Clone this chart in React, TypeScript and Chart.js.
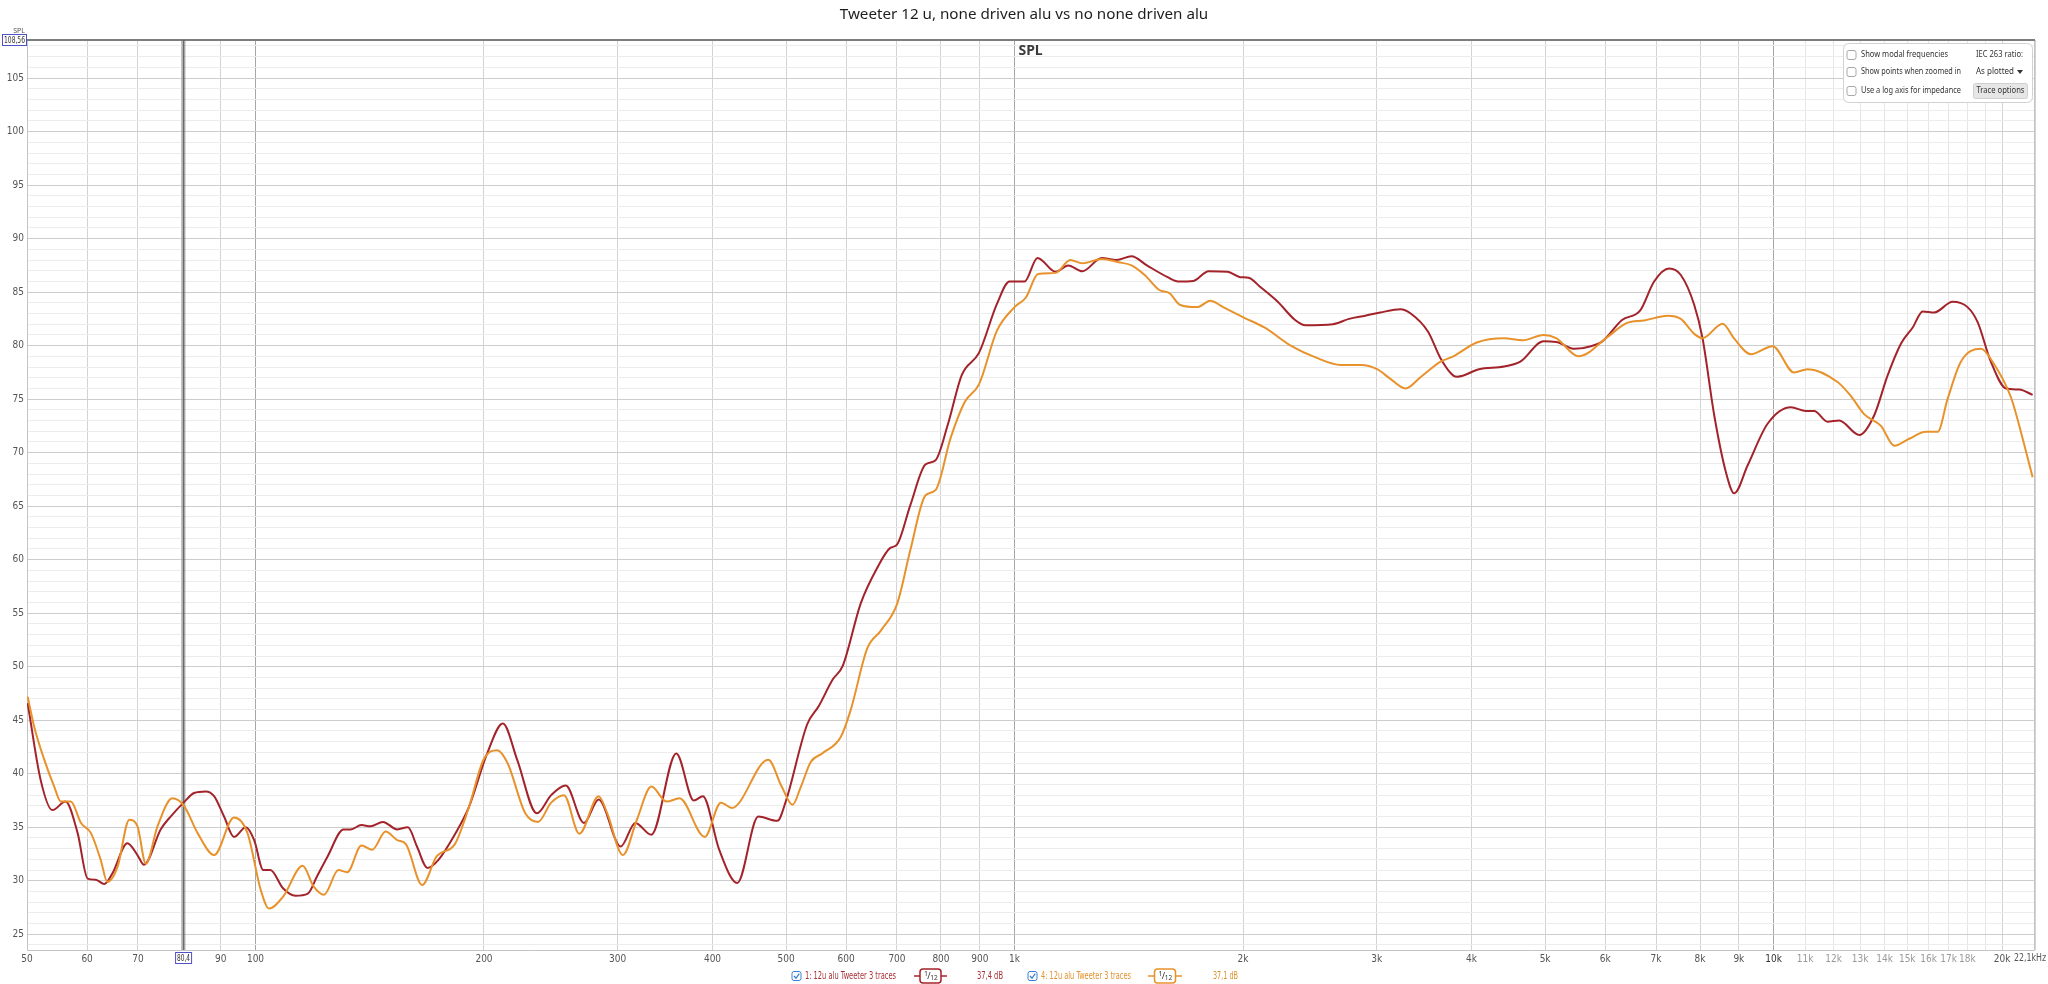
import React, { useEffect, useRef } from "react";
import { Chart, registerables } from "chart.js";

Chart.register(...registerables);

const TITLE = "Tweeter 12 u, none driven alu vs no none driven alu";
const RED = "#a3232a";
const ORANGE = "#e8922c";

const redFreq = [50.1, 52.1, 54.0, 56.2, 58.3, 60.1, 61.6, 63.2, 64.8, 67.8, 69.9, 71.3, 75.0, 77.3, 80.4, 83.0, 86.0, 88.2, 90.9, 93.7, 97.1, 99.6, 102.4, 104.6, 108.7, 112.9, 117.2, 120.5, 124.5, 130.6, 133.5, 137.9, 141.7, 147.2, 153.7, 158.8, 163.2, 168.5, 174.2, 183.0, 191.1, 201.7, 211.8, 221.2, 234.8, 245.2, 256.3, 270.9, 283.2, 302.8, 316.5, 332.3, 358.4, 378.0, 388.5, 408.2, 431.3, 459.6, 487, 500, 533, 552, 576, 594, 627, 660, 686, 700, 729, 763, 787, 817, 852, 898, 948, 985, 1031, 1072, 1133, 1177, 1228, 1303, 1362, 1426, 1494, 1591, 1643, 1720, 1802, 1908, 1983, 2034, 2106, 2222, 2342, 2417, 2627, 2759, 2898, 3033, 3223, 3326, 3506, 3642, 3785, 3834, 4091, 4415, 4638, 4976, 5170, 5466, 5746, 5950, 6314, 6673, 6960, 7286, 7547, 7861, 8063, 8352, 8652, 8875, 9241, 9819, 10539, 11030, 11310, 11780, 12200, 12970, 13570, 14130, 14720, 15250, 15720, 16280, 17210, 18010, 18570, 19330, 20240, 21070, 21940];
const redSpl = [46.6, 39.45, 36.6, 37.4, 34.45, 30.2, 30.1, 29.7, 30.7, 33.5, 32.4, 31.5, 34.8, 36.0, 37.3, 38.2, 38.35, 37.9, 36.0, 34.1, 35.0, 33.8, 31.0, 31.0, 29.3, 28.6, 28.8, 30.4, 32.3, 34.8, 34.8, 35.2, 35.1, 35.5, 34.8, 35.0, 33.2, 31.2, 31.95, 34.3, 36.9, 41.8, 44.7, 41.3, 36.3, 38.0, 38.9, 35.4, 37.6, 33.2, 35.4, 34.3, 41.9, 37.5, 37.9, 32.9, 29.8, 36.0, 35.6, 37.5, 44.6, 46.3, 48.8, 50.1, 55.9, 59.3, 61.1, 61.4, 65.1, 68.9, 69.3, 72.65, 77.25, 79.35, 83.9, 86.0, 86.0, 88.2, 86.9, 87.5, 86.95, 88.2, 88.0, 88.35, 87.5, 86.4, 86.0, 86.05, 86.95, 86.9, 86.4, 86.35, 85.5, 84.1, 82.4, 81.9, 82.0, 82.5, 82.8, 83.1, 83.4, 83.0, 81.3, 78.8, 77.2, 77.1, 77.8, 78.05, 78.5, 80.4, 80.35, 79.7, 79.95, 80.4, 82.4, 83.3, 86.0, 87.2, 86.6, 83.8, 80.65, 73.5, 68.2, 66.2, 68.8, 72.7, 74.25, 73.9, 73.9, 72.9, 73.0, 71.65, 73.5, 77.2, 80.2, 81.7, 83.2, 83.1, 84.1, 83.6, 82.2, 78.5, 76.0, 75.9, 75.4];

const orangeFreq = [50.1, 51.1, 52.7, 54.3, 55.4, 57.1, 58.9, 60.7, 62.5, 63.8, 65.8, 68.2, 69.9, 71.7, 74.3, 77.7, 80.5, 83.9, 88.2, 93.7, 97.6, 101.6, 104.2, 108.7, 115.4, 119.2, 123.1, 128.6, 132.1, 137.9, 142.5, 148.4, 153.7, 157.9, 165.8, 173.3, 183.0, 191.1, 199.7, 208.1, 214.8, 226.7, 235.6, 245.2, 254.9, 267.1, 283.2, 290.7, 304.8, 318.0, 332.3, 348.0, 361.9, 390.6, 410.4, 424.1, 473.7, 493.4, 509.9, 523.1, 538.9, 557.9, 590, 608, 640, 667, 700.5, 729, 763, 787, 824, 860, 898, 948, 1000, 1035, 1074, 1133, 1184, 1228, 1303, 1371, 1426, 1484, 1551, 1600, 1653, 1742, 1811, 1883, 2008, 2134, 2311, 2492, 2690, 2862, 3004, 3127, 3274, 3426, 3642, 3785, 4064, 4415, 4670, 4976, 5170, 5536, 6040, 6400, 6753, 7252, 7547, 7861, 8063, 8566, 8875, 9335, 9970, 10640, 11090, 12140, 12640, 13160, 13850, 14420, 15090, 15870, 16450, 16950, 17650, 18760, 19430, 20540, 21290, 21940];
const orangeSpl = [47.2, 44.4, 41.3, 38.8, 37.4, 37.4, 35.4, 34.45, 32.0, 29.9, 31.3, 35.7, 35.1, 31.6, 35.1, 37.7, 37.0, 34.45, 32.4, 35.9, 34.45, 29.15, 27.4, 28.5, 31.4, 29.5, 28.7, 31.0, 30.8, 33.3, 32.9, 34.6, 33.8, 33.4, 29.6, 32.3, 33.4, 36.9, 41.3, 42.2, 41.0, 36.3, 35.5, 37.3, 38.0, 34.4, 37.9, 36.3, 32.4, 35.7, 38.8, 37.4, 37.7, 34.1, 37.3, 36.8, 41.3, 38.8, 37.1, 38.8, 41.1, 41.9, 43.4, 45.9, 51.75, 53.4, 55.9, 60.9, 66.0, 66.5, 71.4, 74.75, 76.4, 81.4, 83.6, 84.5, 86.7, 86.8, 88.0, 87.7, 88.1, 87.8, 87.5, 86.6, 85.2, 84.9, 83.8, 83.6, 84.2, 83.6, 82.6, 81.7, 80.0, 78.9, 78.2, 78.2, 77.8, 76.9, 76.0, 77.05, 78.5, 79.0, 80.3, 80.7, 80.5, 81.0, 80.7, 79.0, 80.8, 82.1, 82.35, 82.8, 82.5, 81.1, 80.7, 82.05, 80.65, 79.2, 79.95, 77.5, 77.8, 76.6, 75.3, 73.6, 72.5, 70.65, 71.3, 71.95, 71.95, 75.0, 78.5, 79.7, 78.5, 75.2, 71.3, 67.7];

const xTickValues = [50, 60, 70, 80, 90, 100, 200, 300, 400, 500, 600, 700, 800, 900, 1000, 2000, 3000, 4000, 5000, 6000, 7000, 8000, 9000, 10000, 11000, 12000, 13000, 14000, 15000, 16000, 17000, 18000, 19000, 20000, 22100];
const xTickLabels = ["50", "60", "70", "", "90", "100", "200", "300", "400", "500", "600", "700", "800", "900", "1k", "2k", "3k", "4k", "5k", "6k", "7k", "8k", "9k", "10k", "11k", "12k", "13k", "14k", "15k", "16k", "17k", "18k", "", "20k", ""];
const xEndLabel = "22,1kHz";
const yMin = 23.53;
const yMax = 108.56;
const yTopLabel = "108,56";
const cursorFreq = 80.4;
const cursorLabel = "80,4";

const legendItems = [
  { label: "1: 12u alu Tweeter 3 traces", value: "37,4 dB", color: RED, text: "#a83036" },
  { label: "4: 12u alu Tweeter 3 traces", value: "37,1 dB", color: ORANGE, text: "#e0922e" },
];
const optionRows = ["Show modal frequencies", "Show points when zoomed in", "Use a log axis for impedance"];

const NARROW = "'Liberation Sans Narrow', 'DejaVu Sans Condensed', 'Noto Sans', sans-serif";
const UI = "'Noto Sans', 'Open Sans', sans-serif";

function roundRect(ctx: CanvasRenderingContext2D, x: number, y: number, w: number, h: number, r: number) {
  ctx.beginPath();
  ctx.moveTo(x + r, y);
  ctx.lineTo(x + w - r, y);
  ctx.quadraticCurveTo(x + w, y, x + w, y + r);
  ctx.lineTo(x + w, y + h - r);
  ctx.quadraticCurveTo(x + w, y + h, x + w - r, y + h);
  ctx.lineTo(x + r, y + h);
  ctx.quadraticCurveTo(x, y + h, x, y + h - r);
  ctx.lineTo(x, y + r);
  ctx.quadraticCurveTo(x, y, x + r, y);
  ctx.closePath();
}

function fitText(ctx: CanvasRenderingContext2D, text: string, x: number, y: number, maxW: number, align: "left" | "center" | "right") {
  const w = ctx.measureText(text).width;
  const s = w > maxW ? maxW / w : 1;
  const drawnW = w * s;
  let left = x;
  if (align === "center") left = x - drawnW / 2;
  if (align === "right") left = x - drawnW;
  ctx.save();
  ctx.textAlign = "left";
  ctx.translate(left, y);
  ctx.scale(s, 1);
  ctx.fillText(text, 0, 0);
  ctx.restore();
}

function checkbox(ctx: CanvasRenderingContext2D, x: number, y: number, checked: boolean) {
  ctx.save();
  roundRect(ctx, x, y, 9, 9, 2);
  ctx.fillStyle = "#fff";
  ctx.fill();
  ctx.strokeStyle = checked ? "#3b7fd1" : "#a8a8a8";
  ctx.lineWidth = 1;
  ctx.stroke();
  if (checked) {
    ctx.beginPath();
    ctx.moveTo(x + 2, y + 4.5);
    ctx.lineTo(x + 4, y + 6.8);
    ctx.lineTo(x + 7.2, y + 2.2);
    ctx.strokeStyle = "#3b7fd1";
    ctx.lineWidth = 1.3;
    ctx.stroke();
  }
  ctx.restore();
}

function smoothSymbol(ctx: CanvasRenderingContext2D, x0: number, x1: number, y: number, color: string) {
  ctx.save();
  ctx.strokeStyle = color;
  ctx.lineWidth = 1.5;
  ctx.beginPath();
  ctx.moveTo(x0, y);
  ctx.lineTo(x1, y);
  ctx.stroke();
  const bw = 21;
  const bx = (x0 + x1) / 2 - bw / 2;
  roundRect(ctx, bx, y - 7, bw, 14, 3);
  ctx.fillStyle = "#fff";
  ctx.fill();
  ctx.stroke();
  ctx.fillStyle = "#333";
  ctx.font = `7px ${UI}`;
  ctx.textAlign = "center";
  ctx.textBaseline = "middle";
  ctx.fillText("1", bx + 6, y - 2.5);
  ctx.font = `9px ${UI}`;
  ctx.fillText("/", bx + 9, y);
  ctx.font = `6.5px ${UI}`;
  ctx.fillText("12", bx + 14, y + 2.5);
  ctx.restore();
}

const overlay = {
  id: "overlay",
  beforeDraw(chart: any) {
    const ctx = chart.ctx as CanvasRenderingContext2D;
    ctx.save();
    ctx.fillStyle = "#fff";
    ctx.fillRect(0, 0, chart.width, chart.height);
    ctx.restore();
  },
  beforeDatasetsDraw(chart: any) {
    const ctx = chart.ctx as CanvasRenderingContext2D;
    const a = chart.chartArea;
    const xs = chart.scales.x;
    ctx.save();
    ctx.strokeStyle = "#c4c4c4";
    ctx.lineWidth = 1;
    ctx.beginPath();
    ctx.moveTo(a.left + 0.5, a.top);
    ctx.lineTo(a.left + 0.5, a.bottom + 0.5);
    ctx.lineTo(a.right - 0.5, a.bottom + 0.5);
    ctx.lineTo(a.right - 0.5, a.top);
    ctx.stroke();
    ctx.strokeStyle = "#7d7d7d";
    ctx.lineWidth = 2;
    ctx.beginPath();
    ctx.moveTo(a.left, a.top);
    ctx.lineTo(a.right, a.top);
    ctx.stroke();
    const cx = xs.getPixelForValue(cursorFreq);
    ctx.strokeStyle = "rgba(90,90,90,0.35)";
    ctx.lineWidth = 4;
    ctx.beginPath();
    ctx.moveTo(cx, a.top);
    ctx.lineTo(cx, a.bottom);
    ctx.stroke();
    ctx.strokeStyle = "#6a6a6a";
    ctx.lineWidth = 1.5;
    ctx.beginPath();
    ctx.moveTo(cx, a.top);
    ctx.lineTo(cx, a.bottom);
    ctx.stroke();
    ctx.fillStyle = "#3a3a3a";
    ctx.font = `bold 14px ${UI}`;
    ctx.textAlign = "center";
    ctx.textBaseline = "middle";
    ctx.fillText("SPL", xs.getPixelForValue(1000) + 16, 51);
    ctx.restore();
  },
  afterDraw(chart: any) {
    const ctx = chart.ctx as CanvasRenderingContext2D;
    const xs = chart.scales.x;
    ctx.save();
    ctx.fillStyle = "#1e1e1e";
    ctx.font = `15.2px ${UI}`;
    ctx.textAlign = "center";
    ctx.textBaseline = "middle";
    ctx.fillText(TITLE, 1024, 15);

    ctx.font = `7px ${UI}`;
    ctx.fillStyle = "#555";
    ctx.fillText("SPL", 19, 31);
    ctx.fillStyle = "#fff";
    ctx.fillRect(2, 34, 25, 12);
    ctx.strokeStyle = "#5050c8";
    ctx.lineWidth = 1;
    ctx.strokeRect(2.5, 34.5, 24, 11);
    ctx.fillStyle = "#333";
    ctx.font = `9.5px ${NARROW}`;
    fitText(ctx, yTopLabel, 14.5, 40.5, 21, "center");

    const cx = xs.getPixelForValue(cursorFreq);
    ctx.fillStyle = "#fff";
    ctx.fillRect(cx - 8.5, 952, 17, 12);
    ctx.strokeStyle = "#5050c8";
    ctx.strokeRect(cx - 8, 952.5, 16, 11);
    ctx.fillStyle = "#333";
    ctx.font = `9.5px ${NARROW}`;
    fitText(ctx, cursorLabel, cx, 958.5, 13, "center");

    ctx.fillStyle = "#555";
    ctx.font = `10px ${NARROW}`;
    fitText(ctx, xEndLabel, 2046, 958, 32, "right");

    const px = 1843, py = 43, pw = 189, ph = 59;
    roundRect(ctx, px + 0.5, py + 0.5, pw, ph, 6);
    ctx.fillStyle = "#fff";
    ctx.fill();
    ctx.strokeStyle = "#d2d2d2";
    ctx.lineWidth = 1;
    ctx.stroke();
    ctx.textAlign = "left";
    ctx.textBaseline = "middle";
    ctx.font = `8.5px ${UI}`;
    const rowsY = [55, 72, 91];
    optionRows.forEach((t, i) => {
      checkbox(ctx, 1847, rowsY[i] - 4.5, false);
      ctx.fillStyle = "#333";
      fitText(ctx, t, 1861, rowsY[i], i === 0 ? 87 : 100, "left");
    });
    ctx.fillStyle = "#333";
    fitText(ctx, "IEC 263 ratio:", 2023, 55, 47, "right");
    fitText(ctx, "As plotted", 1976, 72, 38, "left");
    ctx.beginPath();
    ctx.moveTo(2017, 70);
    ctx.lineTo(2023, 70);
    ctx.lineTo(2020, 74);
    ctx.closePath();
    ctx.fillStyle = "#333";
    ctx.fill();
    roundRect(ctx, 1973.5, 83.5, 54, 15, 2);
    ctx.fillStyle = "#e6e6e6";
    ctx.fill();
    ctx.strokeStyle = "#cfcfcf";
    ctx.stroke();
    ctx.fillStyle = "#333";
    fitText(ctx, "Trace options", 2000.5, 91, 48, "center");

    const ly = 976;
    const pos = [
      { cb: 792, text: 805, tw: 91, sym0: 914, sym1: 947, val: 977, vw: 26 },
      { cb: 1028, text: 1041, tw: 90, sym0: 1148, sym1: 1182, val: 1213, vw: 25 },
    ];
    legendItems.forEach((it, i) => {
      const p = pos[i];
      checkbox(ctx, p.cb, ly - 4.5, true);
      ctx.fillStyle = it.text;
      ctx.font = `10.5px ${NARROW}`;
      ctx.textBaseline = "middle";
      fitText(ctx, it.label, p.text, ly, p.tw, "left");
      smoothSymbol(ctx, p.sym0, p.sym1, ly, it.color);
      ctx.fillStyle = it.text;
      ctx.font = `10.5px ${NARROW}`;
      ctx.textBaseline = "middle";
      fitText(ctx, it.value, p.val, ly, p.vw, "left");
    });
    ctx.restore();
  },
};

export default function App() {
  const ref = useRef<HTMLCanvasElement | null>(null);
  useEffect(() => {
    if (!ref.current) return;
    const yTicks: number[] = [];
    for (let v = 24; v <= 108; v++) yTicks.push(v);
    const chart = new Chart(ref.current, {
      type: "line",
      data: {
        datasets: [
          {
            label: legendItems[1].label,
            data: orangeFreq.map((f, i) => ({ x: f, y: orangeSpl[i] })),
            borderColor: ORANGE,
            borderWidth: 2,
            pointRadius: 0,
            cubicInterpolationMode: "monotone",
            fill: false,
          },
          {
            label: legendItems[0].label,
            data: redFreq.map((f, i) => ({ x: f, y: redSpl[i] })),
            borderColor: RED,
            borderWidth: 2,
            pointRadius: 0,
            cubicInterpolationMode: "monotone",
            fill: false,
          },
        ],
      },
      options: {
        responsive: false,
        animation: false,
        devicePixelRatio: 1,
        layout: { padding: { left: 0, right: 13, top: 40, bottom: 0 } },
        plugins: {
          legend: { display: false },
          tooltip: { enabled: false },
          title: { display: false },
        },
        scales: {
          x: {
            type: "logarithmic",
            min: 50,
            max: 22100,
            afterBuildTicks: (s: any) => {
              s.ticks = xTickValues.map((v) => ({ value: v }));
            },
            afterFit: (s: any) => {
              s.height = 34;
            },
            ticks: {
              autoSkip: false,
              maxRotation: 0,
              minRotation: 0,
              padding: 3,
              font: { family: NARROW, size: 10 },
              color: (c: any) => {
                const v = c.tick ? c.tick.value : 0;
                if (v > 10000 && v < 20000) return "#9a9a9a";
                if (v === 10000) return "#333";
                return "#555";
              },
              callback: (_v: any, i: number) => xTickLabels[i],
            },
            grid: {
              drawTicks: false,
              lineWidth: 1,
              color: (c: any) => {
                const v = c.tick ? c.tick.value : 0;
                if (v === 100 || v === 1000 || v === 10000) return "#a6a6a6";
                if (v > 10000 && v < 20000) return "#e6e6e6";
                return "#d3d3d3";
              },
            },
            border: { display: false },
          },
          y: {
            type: "linear",
            min: yMin,
            max: yMax,
            afterBuildTicks: (s: any) => {
              s.ticks = yTicks.map((v) => ({ value: v }));
            },
            afterFit: (s: any) => {
              s.width = 27;
            },
            ticks: {
              autoSkip: false,
              padding: 3,
              font: { family: NARROW, size: 10 },
              color: "#555",
              callback: (v: any) => (Number(v) % 5 === 0 ? String(v) : ""),
            },
            grid: {
              drawTicks: false,
              lineWidth: 1,
              color: (c: any) => {
                const v = c.tick ? c.tick.value : 0;
                return v % 5 === 0 ? "#cdcdcd" : "#ececec";
              },
            },
            border: { display: false },
          },
        },
      },
      plugins: [overlay],
    } as any);
    return () => chart.destroy();
  }, []);
  return (
    <div style={{ position: "absolute", left: 0, top: 0, width: 2048, height: 984, background: "#fff" }}>
      <canvas ref={ref} width={2048} height={984} style={{ display: "block", width: 2048, height: 984 }} />
    </div>
  );
}
